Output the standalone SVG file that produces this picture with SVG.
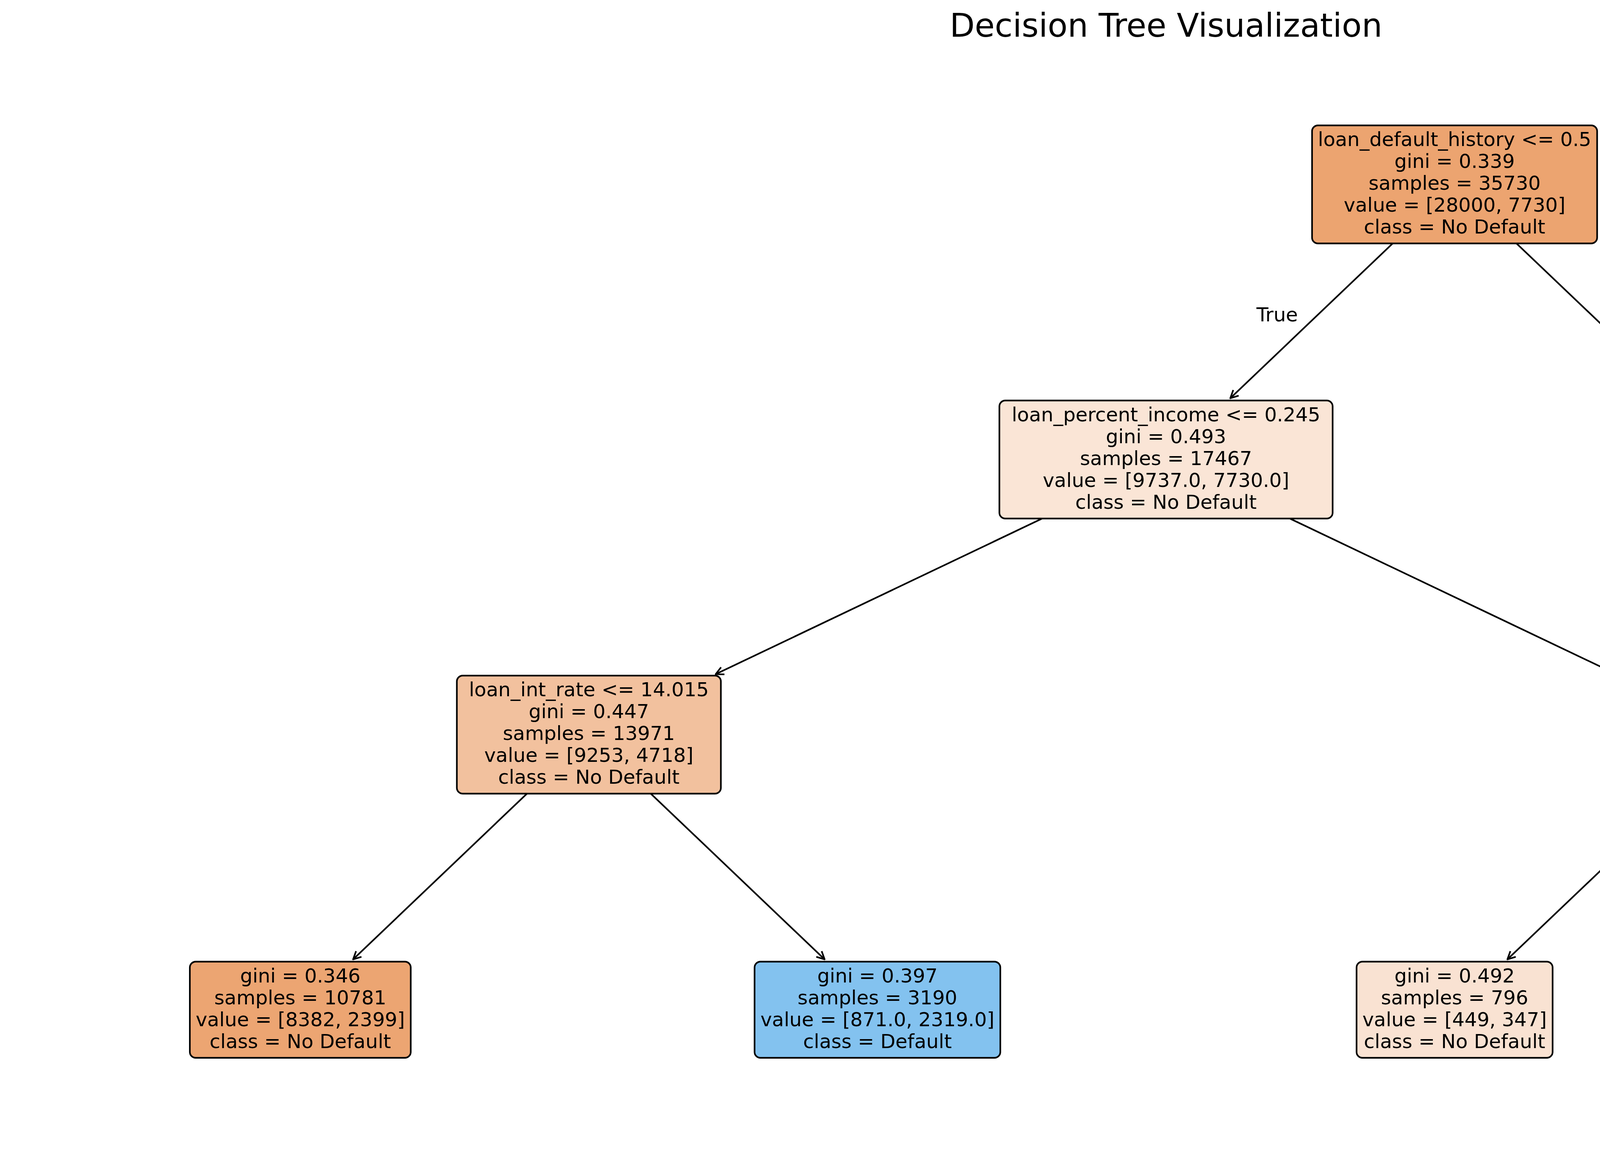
<svg xmlns="http://www.w3.org/2000/svg" width="5970" height="2968" viewBox="0 0 5970 2968">
<style>
text { font-family: "DejaVu Sans", "Liberation Sans", sans-serif; fill: #000; }
.t { font-size: 50px; text-anchor: middle; }
.lbl { font-size: 50px; }
.title { font-size: 83.33px; text-anchor: middle; }
.box { stroke: #000; stroke-width: 4.17; }
.edge { fill: none; stroke: #000; stroke-width: 4.17; marker-start: url(#head); }
</style>
<defs>
<marker id="head" markerUnits="userSpaceOnUse" markerWidth="60" markerHeight="60" viewBox="-30 -30 60 60" refX="0" refY="0" orient="auto-start-reverse" overflow="visible">
<path d="M -20 -10 L 0 0 L -20 10" fill="none" stroke="#000" stroke-width="4.17" stroke-linejoin="round"/>
</marker>
</defs>
<rect x="0" y="0" width="5970" height="2968" fill="#ffffff"/>
<text class="title" x="2985" y="94">Decision Tree Visualization</text>

<g id="connectors">
<line class="edge" x1="3149.58" y1="1019.80" x2="3565.2" y2="623.45"/>
<line class="edge" x1="4327.28" y1="1047.80" x2="3882.3" y2="623.45"/>
<line class="edge" x1="1832.12" y1="1726.46" x2="2667.9" y2="1327.95"/>
<line class="edge" x1="4137.88" y1="1726.46" x2="3302.1" y2="1327.95"/>
<line class="edge" x1="903.97" y1="2456.80" x2="1348.95" y2="2032.45"/>
<line class="edge" x1="2111.03" y1="2456.80" x2="1666.05" y2="2032.45"/>
<line class="edge" x1="3858.97" y1="2456.80" x2="4303.95" y2="2032.45"/>
<line class="edge" x1="5066.03" y1="2456.80" x2="4620.05" y2="2032.45"/>
<text class="lbl" x="3322.6" y="823" text-anchor="end">True</text>
<text class="lbl" x="4124.9" y="823" text-anchor="start">False</text>
</g>

<g id="node-root">
<rect class="box" x="3358.85" y="321.05" width="729.8" height="302.4" rx="15" ry="15" fill="#eca470"/>
<text class="t" x="3723.75" y="374.05">loan_default_history &lt;= 0.5</text>
<text class="t" x="3723.75" y="430.05">gini = 0.339</text>
<text class="t" x="3723.75" y="486.05">samples = 35730</text>
<text class="t" x="3723.75" y="542.05">value = [28000, 7730]</text>
<text class="t" x="3723.75" y="598.05">class = No Default</text>
</g>

<g id="node-loan-percent-income">
<rect class="box" x="2558.45" y="1025.55" width="853.1" height="302.4" rx="15" ry="15" fill="#fae5d6"/>
<text class="t" x="2985" y="1078.55">loan_percent_income &lt;= 0.245</text>
<text class="t" x="2985" y="1134.55">gini = 0.493</text>
<text class="t" x="2985" y="1190.55">samples = 17467</text>
<text class="t" x="2985" y="1246.55">value = [9737.0, 7730.0]</text>
<text class="t" x="2985" y="1302.55">class = No Default</text>
</g>

<g id="node-leaf-false">
<rect class="box" x="4211.55" y="1053.55" width="501.9" height="246.4" rx="15" ry="15" fill="#e58139"/>
<text class="t" x="4462.5" y="1106.55">gini = 0.0</text>
<text class="t" x="4462.5" y="1162.55">samples = 18263</text>
<text class="t" x="4462.5" y="1218.55">value = [18263, 0]</text>
<text class="t" x="4462.5" y="1274.55">class = No Default</text>
</g>

<g id="node-loan-int-rate">
<rect class="box" x="1169.55" y="1730.05" width="675.9" height="302.4" rx="15" ry="15" fill="#f2c19e"/>
<text class="t" x="1507.5" y="1783.05">loan_int_rate &lt;= 14.015</text>
<text class="t" x="1507.5" y="1839.05">gini = 0.447</text>
<text class="t" x="1507.5" y="1895.05">samples = 13971</text>
<text class="t" x="1507.5" y="1951.05">value = [9253, 4718]</text>
<text class="t" x="1507.5" y="2007.05">class = No Default</text>
</g>

<g id="node-home-ownership">
<rect class="box" x="4137.65" y="1730.05" width="649.7" height="302.4" rx="15" ry="15" fill="#59ade9"/>
<text class="t" x="4462.5" y="1783.05">home_ownership &lt;= 2.5</text>
<text class="t" x="4462.5" y="1839.05">gini = 0.239</text>
<text class="t" x="4462.5" y="1895.05">samples = 3496</text>
<text class="t" x="4462.5" y="1951.05">value = [484, 3012]</text>
<text class="t" x="4462.5" y="2007.05">class = Default</text>
</g>

<g id="node-leaf-a">
<rect class="box" x="486" y="2462.55" width="565.5" height="246.4" rx="15" ry="15" fill="#eca572"/>
<text class="t" x="768.75" y="2515.55">gini = 0.346</text>
<text class="t" x="768.75" y="2571.55">samples = 10781</text>
<text class="t" x="768.75" y="2627.55">value = [8382, 2399]</text>
<text class="t" x="768.75" y="2683.55">class = No Default</text>
</g>

<g id="node-leaf-b">
<rect class="box" x="1931.7" y="2462.55" width="629.1" height="246.4" rx="15" ry="15" fill="#83c2ef"/>
<text class="t" x="2246.25" y="2515.55">gini = 0.397</text>
<text class="t" x="2246.25" y="2571.55">samples = 3190</text>
<text class="t" x="2246.25" y="2627.55">value = [871.0, 2319.0]</text>
<text class="t" x="2246.25" y="2683.55">class = Default</text>
</g>

<g id="node-leaf-c">
<rect class="box" x="3472.8" y="2462.55" width="501.9" height="246.4" rx="15" ry="15" fill="#f9e2d2"/>
<text class="t" x="3723.75" y="2515.55">gini = 0.492</text>
<text class="t" x="3723.75" y="2571.55">samples = 796</text>
<text class="t" x="3723.75" y="2627.55">value = [449, 347]</text>
<text class="t" x="3723.75" y="2683.55">class = No Default</text>
</g>

<g id="node-leaf-d">
<rect class="box" x="4950.3" y="2462.55" width="501.9" height="246.4" rx="15" ry="15" fill="#3c9ee5"/>
<text class="t" x="5201.25" y="2515.55">gini = 0.026</text>
<text class="t" x="5201.25" y="2571.55">samples = 2700</text>
<text class="t" x="5201.25" y="2627.55">value = [35, 2665]</text>
<text class="t" x="5201.25" y="2683.55">class = Default</text>
</g>
</svg>
